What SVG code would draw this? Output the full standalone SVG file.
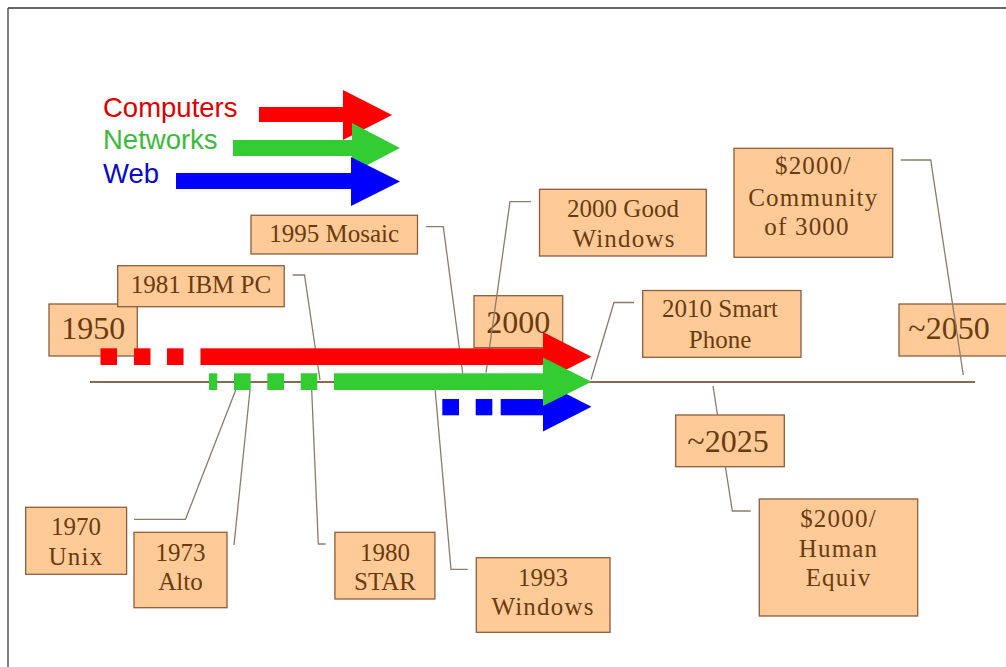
<svg xmlns="http://www.w3.org/2000/svg" width="1006" height="667" viewBox="0 0 1006 667">
<style>
.box{fill:#fecb98;stroke:#8b5e3c;stroke-width:1.3}
.bt{font-family:"Liberation Serif","Times New Roman",serif;font-size:25px;fill:#6b3a0e;text-anchor:middle}
.big{font-size:32px}
.sp{letter-spacing:1.2px}
.leg{font-family:"Liberation Sans",Arial,sans-serif;font-size:27.5px}
.con{fill:none;stroke:#8c7b6b;stroke-width:1.3}
.red{fill:#ff0000}
.grn{fill:#33cc33}
.blu{fill:#0000ff}
</style>
<rect x="0" y="0" width="1006" height="667" fill="#ffffff"/>
<g id="frame">
<line x1="8" y1="8" x2="1006" y2="8" stroke="#333" stroke-width="1.5"/>
<line x1="8" y1="8" x2="8" y2="667" stroke="#555" stroke-width="1.5"/>
</g>
<g id="legend">
<text class="leg" x="103" y="117" fill="#e00000">Computers</text>
<text class="leg" x="103" y="149" fill="#3cba3c">Networks</text>
<text class="leg" x="103" y="183" fill="#0a0ac8">Web</text>
<rect class="red" x="259" y="107" width="85" height="15"/>
<polygon class="red" points="343,90 392,115 343,140"/>
<rect class="grn" x="233" y="140" width="120" height="16"/>
<polygon class="grn" points="352,123 400,148 352,173"/>
<rect class="blu" x="176" y="173" width="176" height="16"/>
<polygon class="blu" points="351,157 400,181.5 351,206"/>
</g>
<line id="timeline" x1="90" y1="382" x2="975" y2="382" stroke="#5a3a1e" stroke-width="1.3"/>
<g id="n1950"><rect class="box" x="49" y="304" width="88.3" height="52"/><text class="bt big" x="93.3" y="339.3">1950</text></g>
<g id="n1981"><rect class="box" x="117.7" y="265.7" width="166.5" height="41"/><text class="bt" x="201" y="293.3">1981 IBM PC</text></g>
<g id="n1995"><rect class="box" x="251" y="215.3" width="166.5" height="38.7"/><text class="bt" x="334.2" y="241.7">1995 Mosaic</text></g>
<g id="n2000good"><rect class="box" x="539.5" y="189.3" width="166.8" height="66.7"/><text class="bt" x="623" y="217.3">2000 Good</text><text class="bt sp" x="624" y="247.3">Windows</text></g>
<g id="n2000"><rect class="box" x="474" y="295.7" width="88.7" height="52"/><text class="bt big" x="518.3" y="333.3">2000</text></g>
<g id="n2010"><rect class="box" x="642.7" y="290.5" width="158.3" height="66.8"/><text class="bt" x="720" y="317.3">2010 Smart</text><text class="bt" x="720" y="347.7">Phone</text></g>
<g id="ncommunity"><rect class="box" x="734" y="148.3" width="158.7" height="109"/><text class="bt sp" x="813.3" y="174">$2000/</text><text class="bt sp" x="813.3" y="206">Community</text><text class="bt sp" x="807" y="235">of 3000</text></g>
<g id="n2050"><rect class="box" x="899" y="304" width="120" height="52"/><text class="bt big" x="949" y="339.3">~2050</text></g>
<g id="n2025"><rect class="box" x="675.7" y="415" width="108.6" height="51.7"/><text class="bt big" x="728" y="451.7">~2025</text></g>
<g id="nhuman"><rect class="box" x="759.3" y="499" width="158.4" height="117"/><text class="bt sp" x="838.5" y="526.7">$2000/</text><text class="bt sp" x="838.5" y="556.7">Human</text><text class="bt sp" x="838.5" y="586">Equiv</text></g>
<g id="n1970"><rect class="box" x="25.7" y="507.3" width="100.9" height="67"/><text class="bt" x="76" y="535">1970</text><text class="bt sp" x="76" y="565">Unix</text></g>
<g id="n1973"><rect class="box" x="134" y="532.3" width="93" height="75.4"/><text class="bt" x="180.5" y="561">1973</text><text class="bt" x="180.5" y="590">Alto</text></g>
<g id="n1980"><rect class="box" x="334.9" y="532.3" width="100" height="66.7"/><text class="bt" x="385" y="561">1980</text><text class="bt" x="385" y="590">STAR</text></g>
<g id="n1993"><rect class="box" x="476.3" y="557.7" width="133.7" height="74.6"/><text class="bt" x="543" y="586">1993</text><text class="bt sp" x="543" y="615">Windows</text></g>
<g id="connectors">
<polyline class="con" points="292.7,275 304.5,275 320,380"/>
<polyline class="con" points="426,226.7 443.3,226.7 462.7,373.3"/>
<polyline class="con" points="531,201.7 510,201.7 486,372.7"/>
<polyline class="con" points="634,302.5 614,302.5 591,379.5"/>
<polyline class="con" points="900.7,160 930.7,160 963.3,375"/>
<polyline class="con" points="134,519.3 185.5,519.3 235.7,390"/>
<polyline class="con" points="234,545 250,390"/>
<polyline class="con" points="311.7,390 318.3,544 325.7,544"/>
<polyline class="con" points="435,388.3 451,569.3 467.7,569.3"/>
<polyline class="con" points="713,386 717.5,415"/>
<polyline class="con" points="725.4,466.7 732.3,511 750.7,511"/>
</g>
<g id="arrows">
<g class="blu">
<rect x="442.3" y="399" width="16.7" height="16.3"/>
<rect x="475.7" y="399" width="16.6" height="16.3"/>
<rect x="500.7" y="399" width="43" height="16.3"/>
<polygon points="543,382 591.5,406.7 543,431.5"/>
</g>
<g class="red">
<rect x="100.5" y="348.3" width="16.5" height="16.7"/>
<rect x="134" y="348.3" width="16.5" height="16.7"/>
<rect x="167" y="348.3" width="16.5" height="16.7"/>
<rect x="200.5" y="348.3" width="343" height="16.7"/>
<polygon points="543,332 591.5,356.7 543,381.4"/>
</g>
<g class="grn">
<rect x="209" y="373.3" width="8.3" height="16.7"/>
<rect x="234" y="373.3" width="16.7" height="16.7"/>
<rect x="267.3" y="373.3" width="16.7" height="16.7"/>
<rect x="300.7" y="373.3" width="16.6" height="16.7"/>
<rect x="334" y="373.3" width="209.5" height="16.7"/>
<polygon points="543,357.5 591.5,381.7 543,406"/>
</g>
</g>
</svg>
